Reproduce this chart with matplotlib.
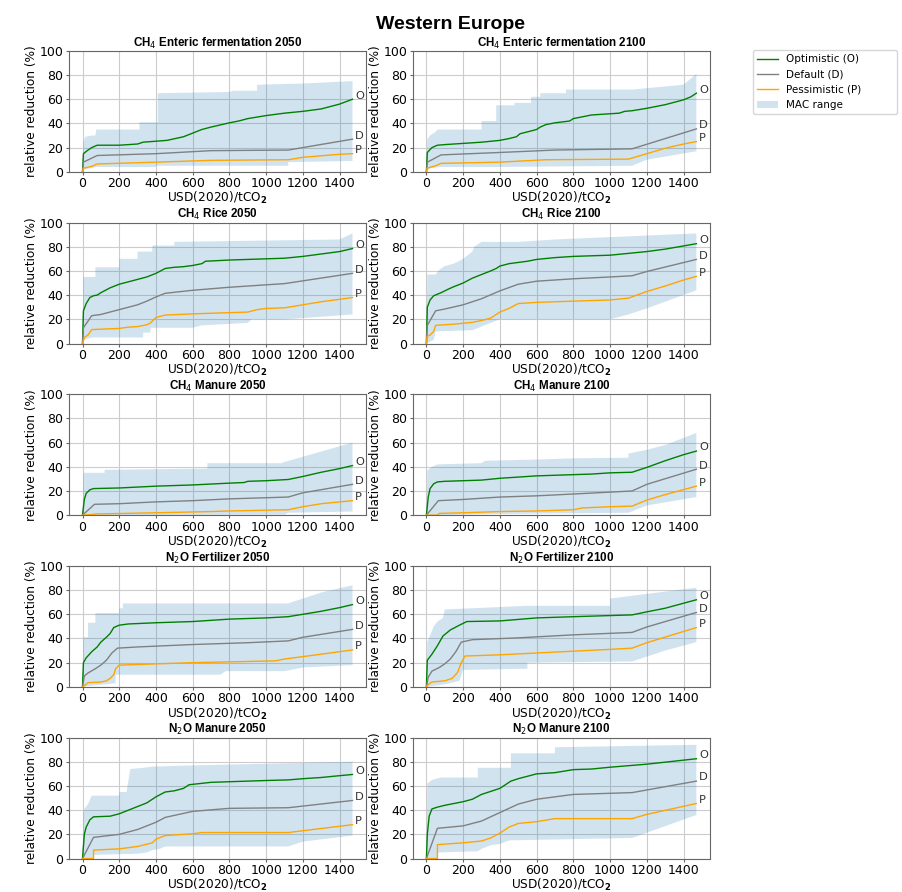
import matplotlib
matplotlib.use('Agg')
import matplotlib.pyplot as plt
from matplotlib.patches import Patch
from matplotlib.lines import Line2D

# price points (USD2020/tCO2) and relative reduction (%)
# CH4 Enteric fermentation 2050
ent50_o = [(0, 0), (5, 15), (30, 18), (50, 20), (80, 22), (200, 22), (300, 23), (330, 24.5), (460, 26),
           (550, 29), (600, 32), (650, 35), (700, 37), (800, 40.5), (850, 42), (900, 44), (1000, 46.5),
           (1100, 48.5), (1200, 50), (1300, 52), (1400, 56), (1470, 60)]
ent50_d = [(0, 0), (5, 8), (80, 13.5), (400, 15), (700, 17.5), (1120, 18), (1470, 27)]
ent50_p = [(0, 0), (5, 3), (50, 4.5), (80, 6.5), (400, 8), (600, 9), (700, 9.5), (1120, 10), (1200, 12),
           (1400, 14.5), (1470, 15)]
ent50_hi = [(5, 25), (15, 29), (50, 30), (70, 30), (75, 35), (310, 35), (310, 41), (410, 41), (410, 65),
            (800, 66), (820, 67), (950, 67), (950, 72), (1200, 73), (1470, 75)]
ent50_lo = [(0, 0), (5, 2), (50, 3), (75, 4), (400, 4), (400, 5), (1120, 5), (1120, 8), (1470, 9)]

# CH4 Enteric fermentation 2100
ent00_o = [(0, 0), (5, 16), (30, 20), (60, 22), (100, 22.5), (200, 23.5), (300, 24.5), (400, 26), (450, 27.5),
           (490, 29), (510, 31.5), (550, 33), (600, 35), (620, 37), (650, 39), (700, 40.5), (780, 42),
           (800, 44), (850, 45.5), (900, 47), (1000, 48), (1050, 48.5), (1080, 50), (1120, 50.5),
           (1200, 52.5), (1300, 55.5), (1400, 59.5), (1440, 62), (1470, 65)]
ent00_d = [(0, 0), (5, 8), (80, 14), (400, 16), (700, 18), (1120, 19), (1470, 35.5)]
ent00_p = [(0, 0), (5, 3), (50, 5), (80, 7), (400, 8), (650, 10), (1100, 10.5), (1200, 15), (1300, 19.5),
           (1400, 23), (1470, 25)]
ent00_hi = [(5, 27), (20, 30), (50, 33), (60, 35), (300, 35), (300, 42), (380, 42), (380, 55), (480, 55),
            (480, 57), (570, 57), (570, 62), (620, 62), (620, 65), (760, 65), (760, 68), (1120, 68),
            (1400, 72), (1470, 81)]
ent00_lo = [(0, 0), (20, 3), (75, 4), (400, 4), (1120, 5), (1200, 10), (1470, 17)]

# CH4 Rice 2050
rice50_o = [(0, 0), (5, 27), (20, 33), (40, 38), (60, 39.5), (80, 40), (100, 42), (150, 46), (200, 49),
            (250, 51), (300, 53), (350, 55), (400, 58), (450, 62), (500, 63), (550, 63.5), (600, 64.5),
            (650, 66), (670, 68), (800, 69), (1000, 70), (1100, 70.5), (1200, 72), (1300, 74), (1400, 76),
            (1470, 78.5)]
rice50_d = [(0, 0), (5, 13), (50, 23), (100, 24), (200, 28), (300, 32), (350, 35), (400, 38.5), (450, 41.5),
            (600, 44), (800, 46.5), (1100, 49.5), (1470, 58)]
rice50_p = [(0, 0), (10, 5), (30, 7), (50, 11.5), (200, 12.5), (250, 13.5), (300, 14), (350, 15.5),
            (370, 17), (400, 21.5), (450, 23.5), (600, 24.5), (700, 25), (900, 26), (950, 28), (1000, 29),
            (1100, 29.5), (1200, 32), (1300, 34.5), (1470, 38)]
rice50_hi = [(5, 55), (70, 55), (70, 63), (200, 63), (200, 70), (300, 70), (300, 76), (380, 76), (380, 81),
             (500, 81), (500, 84), (1400, 86), (1470, 91)]
rice50_lo = [(0, 0), (10, 3), (50, 5), (330, 5), (330, 9), (370, 9), (370, 13), (600, 13), (650, 15),
             (900, 17), (920, 20), (1100, 20), (1470, 24)]

# CH4 Rice 2100
rice00_o = [(0, 0), (5, 30), (20, 36), (40, 39.5), (80, 42), (120, 45), (150, 47), (200, 50), (250, 54),
            (300, 57), (350, 60), (380, 62), (400, 64), (450, 66), (550, 68), (600, 69.5), (700, 71),
            (800, 72), (1000, 73), (1100, 74.5), (1200, 76), (1300, 78), (1470, 82.5)]
rice00_d = [(0, 0), (5, 15), (50, 27), (100, 28.5), (200, 32), (300, 37), (400, 43.5), (500, 49), (600, 51.5),
            (800, 53.5), (1000, 55), (1120, 56), (1200, 59.5), (1470, 69.5)]
rice00_p = [(0, 0), (5, 6), (20, 7), (40, 10), (50, 15), (150, 16), (250, 17.5), (300, 19), (350, 21),
            (400, 26), (450, 29), (500, 33), (600, 34), (900, 35.5), (1000, 36), (1100, 37.5), (1200, 43),
            (1300, 47.5), (1400, 52.5), (1470, 55.5)]
rice00_hi = [(5, 57), (50, 57), (70, 61), (100, 64), (150, 66), (200, 70), (250, 76), (260, 80), (300, 84),
             (500, 84), (700, 86), (1470, 91)]
rice00_lo = [(0, 0), (40, 3), (50, 10), (250, 11), (300, 14), (400, 20), (1000, 20), (1100, 24),
             (1200, 29), (1470, 44)]

# CH4 Manure 2050
man50_o = [(0, 0), (10, 13), (20, 18), (40, 21), (60, 22), (200, 22.5), (400, 24), (600, 25), (800, 26.5),
           (880, 27), (900, 28), (1000, 28.5), (1120, 29.5), (1200, 32), (1300, 35.5), (1400, 38.5),
           (1470, 41)]
man50_d = [(0, 0), (65, 9), (200, 9.5), (400, 11), (600, 12), (800, 13.5), (1120, 15), (1200, 18.5),
           (1470, 25.5)]
man50_p = [(0, 0), (50, 0.5), (70, 1), (400, 2), (700, 3), (800, 3.5), (1120, 4.5), (1200, 7), (1300, 9.5),
           (1470, 12)]
man50_hi = [(5, 35), (120, 35), (120, 37.5), (680, 38.5), (680, 43), (1080, 43), (1100, 44), (1470, 60)]
man50_lo = [(0, 0), (60, 0), (1100, 0.5), (1120, 2), (1470, 3)]

# CH4 Manure 2100
man00_o = [(0, 0), (10, 15), (20, 22), (40, 26), (60, 27.5), (100, 28), (300, 29), (400, 30.5), (600, 32.5),
           (800, 33.5), (900, 34), (1000, 35), (1120, 35.5), (1200, 39.5), (1300, 45), (1400, 50),
           (1470, 53)]
man00_d = [(0, 0), (65, 12), (200, 13), (400, 15), (600, 16), (800, 17.5), (1120, 20), (1200, 25.5),
           (1470, 38)]
man00_p = [(0, 0), (60, 0), (70, 1.5), (200, 2), (400, 3), (600, 3.5), (800, 4.5), (850, 6), (1000, 7),
           (1120, 7.5), (1200, 12.5), (1300, 17), (1470, 24)]
man00_hi = [(5, 37), (30, 40), (60, 42), (300, 43), (320, 45), (600, 46), (800, 47), (1100, 47.5),
            (1100, 51), (1200, 54), (1300, 58), (1470, 68)]
man00_lo = [(0, 0), (60, 0), (400, 1), (1100, 2), (1200, 8), (1470, 15)]

# N2O Fertilizer 2050
fert50_o = [(0, 0), (5, 20), (20, 24), (50, 29), (80, 33), (100, 37), (130, 41), (150, 44), (170, 49),
            (200, 51), (250, 52), (400, 53), (600, 54), (800, 56), (1000, 57), (1120, 58), (1200, 60),
            (1300, 62.5), (1400, 65.5), (1470, 68)]
fert50_d = [(0, 0), (10, 9), (30, 11.5), (70, 15), (100, 18), (130, 22), (160, 28), (190, 32), (300, 33),
            (600, 35), (900, 36.5), (1120, 38), (1200, 41), (1470, 47.5)]
fert50_p = [(0, 0), (10, 1), (30, 3.5), (100, 4), (130, 5), (150, 7), (170, 10), (180, 15), (200, 18),
            (400, 19), (600, 20), (900, 21), (1050, 21.5), (1100, 23), (1200, 25), (1470, 30.5)]
fert50_hi = [(5, 41), (30, 41), (30, 53), (70, 53), (70, 61), (200, 61), (200, 65), (220, 65), (220, 69),
             (1120, 69), (1300, 78), (1470, 84)]
fert50_lo = [(0, 0), (50, 1), (180, 3), (180, 10), (750, 10), (780, 13), (1100, 13), (1200, 16),
             (1470, 18)]

# N2O Fertilizer 2100
fert00_o = [(0, 0), (5, 22), (30, 27), (60, 34), (90, 42), (130, 47), (180, 51), (220, 54), (400, 54.5),
            (600, 57), (800, 58), (1120, 59.5), (1200, 62), (1300, 65), (1470, 72)]
fert00_d = [(0, 0), (10, 8), (30, 13), (70, 16), (100, 19), (130, 23), (160, 29), (190, 37), (250, 39),
            (500, 40.5), (800, 43), (1120, 45), (1200, 49.5), (1470, 61.5)]
fert00_p = [(0, 0), (10, 2), (30, 4), (100, 5), (140, 7), (170, 12), (190, 20), (210, 25.5), (400, 26.5),
            (600, 28), (800, 29.5), (1000, 31), (1120, 32), (1200, 36.5), (1470, 49)]
fert00_hi = [(5, 37), (40, 50), (60, 54), (90, 57), (100, 64), (550, 67), (1000, 67), (1000, 73),
             (1470, 82)]
fert00_lo = [(0, 0), (100, 2), (180, 5), (200, 14), (550, 15), (550, 20), (1120, 21), (1300, 30),
             (1470, 37)]

# N2O Manure 2050
n2oman50_o = [(0, 0), (10, 20), (20, 26), (40, 32), (60, 34.5), (150, 35), (200, 37), (250, 40), (300, 43),
              (350, 46), (400, 51), (450, 55), (500, 56), (550, 58), (580, 61), (700, 63), (800, 63.5),
              (1000, 64.5), (1120, 65), (1200, 66), (1300, 67), (1400, 68.5), (1470, 69.5)]
n2oman50_d = [(0, 0), (60, 17.5), (200, 20), (300, 24), (400, 30), (450, 34), (600, 39), (800, 41.5),
              (1120, 42), (1470, 48)]
n2oman50_p = [(0, 0), (60, 0), (60, 7), (200, 8), (300, 10), (380, 13), (400, 16), (450, 19), (600, 20.5),
              (650, 21.5), (1120, 21.5), (1470, 28)]
n2oman50_hi = [(5, 40), (30, 45), (50, 52), (200, 52), (200, 55), (240, 55), (260, 74), (330, 75),
               (380, 76), (600, 77), (1470, 80)]
n2oman50_lo = [(0, 0), (60, 0), (60, 3), (300, 4), (350, 5), (380, 7), (420, 8), (450, 10), (1120, 10),
               (1200, 14), (1470, 19)]

# N2O Manure 2100
n2oman00_o = [(0, 0), (5, 20), (15, 35), (30, 41), (60, 42.5), (100, 44), (200, 47), (250, 49), (300, 53),
              (400, 58), (430, 61), (460, 64), (500, 66), (600, 70), (700, 71), (800, 73.5), (900, 74),
              (1000, 75.5), (1200, 78), (1470, 82.5)]
n2oman00_d = [(0, 0), (60, 25), (200, 27), (300, 31), (400, 38), (500, 45), (600, 49), (800, 53),
              (1120, 54.5), (1470, 64)]
n2oman00_p = [(0, 0), (60, 0), (60, 11.5), (200, 13), (300, 14.5), (350, 17), (400, 21), (450, 26),
              (500, 29), (600, 30.5), (700, 33), (1120, 33), (1200, 36.5), (1470, 45.5)]
n2oman00_hi = [(5, 62), (30, 65), (80, 67), (280, 67), (280, 75), (460, 75), (460, 87), (700, 87),
               (700, 92), (1470, 94)]
n2oman00_lo = [(0, 0), (60, 0), (60, 5), (280, 6), (300, 8), (350, 11), (400, 12), (450, 15), (1120, 17),
               (1470, 36)]

titles = ['CH$_4$ Enteric fermentation 2050', 'CH$_4$ Enteric fermentation 2100',
          'CH$_4$ Rice 2050', 'CH$_4$ Rice 2100',
          'CH$_4$ Manure 2050', 'CH$_4$ Manure 2100',
          'N$_2$O Fertilizer 2050', 'N$_2$O Fertilizer 2100',
          'N$_2$O Manure 2050', 'N$_2$O Manure 2100']

panels = [
    (ent50_o, ent50_d, ent50_p, ent50_hi, ent50_lo),
    (ent00_o, ent00_d, ent00_p, ent00_hi, ent00_lo),
    (rice50_o, rice50_d, rice50_p, rice50_hi, rice50_lo),
    (rice00_o, rice00_d, rice00_p, rice00_hi, rice00_lo),
    (man50_o, man50_d, man50_p, man50_hi, man50_lo),
    (man00_o, man00_d, man00_p, man00_hi, man00_lo),
    (fert50_o, fert50_d, fert50_p, fert50_hi, fert50_lo),
    (fert00_o, fert00_d, fert00_p, fert00_hi, fert00_lo),
    (n2oman50_o, n2oman50_d, n2oman50_p, n2oman50_hi, n2oman50_lo),
    (n2oman00_o, n2oman00_d, n2oman00_p, n2oman00_hi, n2oman00_lo),
]

colors = {'O': 'green', 'D': 'grey', 'P': 'orange'}
band_color = 'tab:blue'

fig, axes = plt.subplots(5, 2, figsize=(9.02, 8.92), dpi=100)
fig.subplots_adjust(left=0.0765, right=0.787, top=0.943, bottom=0.0375, wspace=0.158, hspace=0.419)

for ax, title, (opt, dft, pes, hi, lo) in zip(axes.flat, titles, panels):
    # MAC range polygon: upper edge left to right, lower edge back
    poly = hi + lo[::-1]
    ax.fill([p[0] for p in poly], [p[1] for p in poly], color=band_color, alpha=0.2, lw=0)
    for key, series in zip('ODP', (opt, dft, pes)):
        xs = [p[0] for p in series]
        ys = [p[1] for p in series]
        ax.plot(xs, ys, color=colors[key], lw=1.0)
        ax.text(xs[-1] + 15, ys[-1] + 3, key, fontsize=8.2, va='center', ha='left', color='0.2')
    ax.set_ylim(0, 100)
    ax.set_yticks(range(0, 101, 20))
    ax.set_xticks(range(0, 1401, 200))
    ax.grid(True, color='0.8', lw=0.8)
    ax.set_axisbelow(True)
    ax.tick_params(labelsize=9, length=2.5, pad=1.5, color='0.4')
    for s in ax.spines.values():
        s.set_color('0.4')
    ax.set_title(title, fontsize=8.4, fontweight='bold', family='Liberation Sans', pad=3)
    ax.set_ylabel('relative reduction (%)', fontsize=8.7, labelpad=1)
    ax.set_xlabel('USD(2020)/tCO$_\\mathbf{2}$', fontsize=8.7, labelpad=0)

fig.suptitle('Western Europe', y=0.982, fontsize=14, fontweight='bold', family='Liberation Sans')

handles = [Line2D([], [], color='green', lw=1.0), Line2D([], [], color='grey', lw=1.0),
           Line2D([], [], color='orange', lw=1.0), Patch(color=band_color, alpha=0.2, lw=0)]
fig.legend(handles, ['Optimistic (O)', 'Default (D)', 'Pessimistic (P)', 'MAC range'],
           loc='upper left', bbox_to_anchor=(753 / 902, 1 - 118 / 892, 144 / 902, 68 / 892),
           mode='expand', borderaxespad=0, fontsize=7.5, frameon=True)

fig.savefig('out.png', dpi=100)
